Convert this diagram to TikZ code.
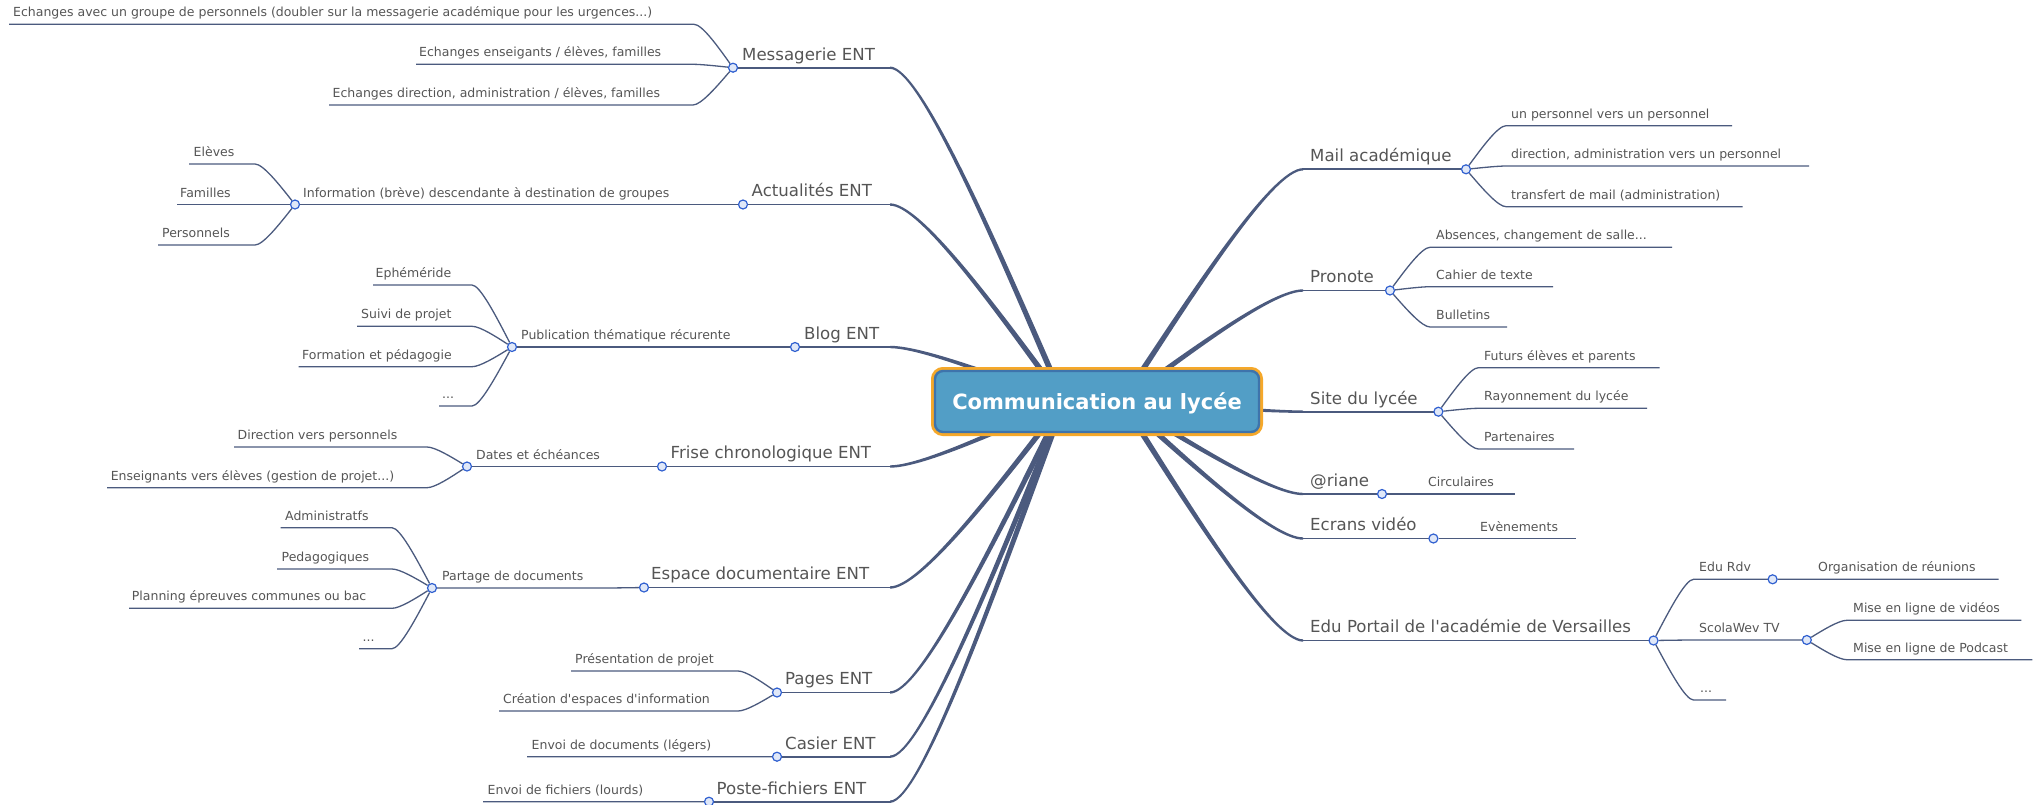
\documentclass[tikz,border=0pt]{standalone}
\usepackage{fontspec}
\setmainfont{DejaVu Sans}[Ligatures=TeXOff]
\usetikzlibrary{calc}
\definecolor{branchcol}{HTML}{4B5A7E}
\definecolor{txtcol}{HTML}{555555}
\definecolor{jointcol}{HTML}{3060D0}
\definecolor{jointfill}{HTML}{E0E8F8}
\definecolor{rootfill}{HTML}{529EC6}
\definecolor{rootline}{HTML}{3E74AC}
\definecolor{rootorange}{HTML}{F5A82A}
\pgfdeclarelayer{bg}
\pgfsetlayers{bg,main}
\tikzset{
 mainline/.style={draw=branchcol, line width=1.8pt},
 subline/.style={draw=branchcol, line width=1.3pt},
 joint/.style={circle, draw=jointcol, fill=jointfill, line width=1.2pt, minimum size=9pt, inner sep=0pt},
 maintxt/.style={anchor=base west, inner sep=0pt, text=txtcol, font=\fontsize{16.6}{20}\selectfont},
 subtxt/.style={anchor=base west, inner sep=0pt, text=txtcol, font=\fontsize{12.5}{15}\selectfont},
 rootbox/.style={draw=rootline, line width=2.4pt, fill=rootfill, rounded corners=8pt,
   minimum width=324pt, minimum height=61pt, text=white, text height=15.5pt, text depth=0pt,
   font=\bfseries\fontsize{21}{25}\selectfont, preaction={draw=rootorange, line width=8pt}},
}
% tapered main branch: start, end, dx
\newcommand\mbranch[3]{%
  \coordinate (#2-c) at ($(#2)+(#3,0)$);
  \coordinate (#2-m) at ($(#1)!0.5!(#2-c)$);
  \begin{pgfonlayer}{bg}
  \fill[branchcol] ($(#1)!3pt!90:(#2-c)$) .. controls ($(#2-m)!2.2pt!90:(#2-c)$) and ($(#2-c)!1.4pt!-90:(#1)$) .. ($(#2)!1.2pt!-90:(#2-c)$)
     -- ($(#2)!1.2pt!90:(#2-c)$) .. controls ($(#2-c)!1.4pt!90:(#1)$) and ($(#2-m)!2.2pt!-90:(#2-c)$) .. ($(#1)!3pt!-90:(#2-c)$) -- cycle;
  \end{pgfonlayer}
}
% sub connector: from node, to coord, dx, far coord
\newcommand\subconn[4]{%
  \coordinate (#2-c) at ($(#2)+(#3,0)$);
  \begin{pgfonlayer}{bg}
  \draw[subline] (#1) .. controls ($(#1)!0.5!(#2-c)$) and (#2-c) .. (#2) -- (#4);
  \end{pgfonlayer}
}
% 1 name, 2 root, 3 y, 4 circle x, 5 text x, 6 end x, 7 dx, 8 text
\newcommand\maintopic[8]{%
  \node[joint] (#1-j) at (#4,#3) {};
  \node[maintxt] (#1) at (#5,#3-7.7) {#8};
  \coordinate (#1-a) at (#6,#3);
  \mbranch{#2}{#1-a}{#7}
  \begin{pgfonlayer}{bg}\draw[mainline] (#1-a) -- (#1-j.center);\end{pgfonlayer}
}
% 1 name, 2 parent, 3 y, 4 near x, 5 circle x, 6 text x, 7 dx, 8 text
\newcommand\midtopic[8]{%
  \node[joint] (#1-j) at (#5,#3) {};
  \node[subtxt] (#1) at (#6,#3-7.5) {#8};
  \coordinate (#1-a) at (#4,#3);
  \subconn{#2}{#1-a}{#7}{#1-j.center}
}
% 1 name, 2 parent, 3 y, 4 near x, 5 far x, 6 text x, 7 dx, 8 text
\newcommand\leaf[8]{%
  \node[subtxt] (#1) at (#6,#3-7.5) {#8};
  \coordinate (#1-a) at (#4,#3);
  \coordinate (#1-b) at (#5,#3);
  \subconn{#2}{#1-a}{#7}{#1-b}
}
\begin{document}
\begin{tikzpicture}[x=1pt,y=-1pt]
\useasboundingbox (0,0) rectangle (2038,804);
\node[rootbox] (root) at (1097,401.5) {Communication au lycée};
\coordinate (rootL) at ($(root.center)+(-33,0)$);
\coordinate (rootR) at ($(root.center)+(25,0)$);

\maintopic{msg}{rootL}{67.7}{733}{742}{890}{30}{Messagerie ENT}
\maintopic{act}{rootL}{204.5}{743}{751.5}{890}{30}{Actualités ENT}
\maintopic{blog}{rootL}{347}{795}{804}{890}{30}{Blog ENT}
\maintopic{frise}{rootL}{466.5}{662}{670.5}{890}{30}{Frise chronologique ENT}
\maintopic{esp}{rootL}{587.5}{644}{651}{890}{30}{Espace documentaire ENT}
\maintopic{pages}{rootL}{692.5}{777}{785}{890}{30}{Pages ENT}
\maintopic{casier}{rootL}{756.7}{777}{785}{890}{30}{Casier ENT}
\maintopic{poste}{rootL}{801.7}{709}{716.5}{890}{30}{Poste-fichiers ENT}

\maintopic{mail}{rootR}{169.3}{1466}{1310}{1303}{-30}{Mail académique}
\maintopic{pronote}{rootR}{290.5}{1390}{1310}{1303}{-30}{Pronote}
\maintopic{site}{rootR}{411.7}{1438.4}{1310}{1303}{-30}{Site du lycée}
\maintopic{riane}{rootR}{494}{1382}{1310}{1303}{-30}{@riane}
\maintopic{ecrans}{rootR}{538.5}{1433.4}{1310}{1303}{-30}{Ecrans vidéo}
\maintopic{edu}{rootR}{640.5}{1653.5}{1310}{1303}{-30}{Edu Portail de l'académie de Versailles}

\midtopic{info}{act-j}{204.5}{703}{295}{303}{8}{Information (brève) descendante à destination de groupes}
\midtopic{pub}{blog-j}{347}{755}{512}{521}{8}{Publication thématique récurente}
\midtopic{dates}{frise-j}{466.5}{622}{467}{476}{8}{Dates et échéances}
\midtopic{partage}{esp-j}{588}{604}{432}{442}{8}{Partage de documents}
\midtopic{edurdv}{edu-j}{579.3}{1693.5}{1772.6}{1699}{-8}{Edu Rdv}
\midtopic{scola}{edu-j}{640}{1693.5}{1806.8}{1699}{-8}{ScolaWev TV}

\leaf{m1}{msg-j}{24.3}{694}{9}{13}{8}{Echanges avec un groupe de personnels (doubler sur la messagerie académique pour les urgences...)}
\leaf{m2}{msg-j}{64.3}{693}{416}{419}{8}{Echanges enseigants / élèves, familles}
\leaf{m3}{msg-j}{105}{693}{329}{332.5}{8}{Echanges direction, administration / élèves, familles}
\leaf{i1}{info-j}{164}{255}{189}{193.5}{8}{Elèves}
\leaf{i2}{info-j}{204.5}{255}{177}{180}{8}{Familles}
\leaf{i3}{info-j}{245}{255}{158}{162}{8}{Personnels}
\leaf{p1}{pub-j}{285}{472}{373}{375.5}{8}{Ephéméride}
\leaf{p2}{pub-j}{326.3}{472}{357}{361}{8}{Suivi de projet}
\leaf{p3}{pub-j}{366.7}{472}{298.5}{302}{8}{Formation et pédagogie}
\leaf{p4}{pub-j}{406}{472}{439}{442}{8}{...}
\leaf{d1}{dates-j}{447}{427}{234}{237.5}{8}{Direction vers personnels}
\leaf{d2}{dates-j}{487.7}{427}{107}{110.6}{8}{Enseignants vers élèves (gestion de projet...)}
\leaf{s1}{partage-j}{527.7}{392}{280.6}{285}{8}{Administratfs}
\leaf{s2}{partage-j}{569}{392}{277}{281.5}{8}{Pedagogiques}
\leaf{s3}{partage-j}{608.3}{392}{129}{131.7}{8}{Planning épreuves communes ou bac}
\leaf{s4}{partage-j}{648.7}{392}{359}{362.5}{8}{...}
\leaf{g1}{pages-j}{671}{738}{571}{575}{8}{Présentation de projet}
\leaf{g2}{pages-j}{711}{738}{499}{503}{8}{Création d'espaces d'information}
\leaf{c1}{casier-j}{756.7}{737}{527}{531.5}{8}{Envoi de documents (légers)}
\leaf{f1}{poste-j}{801.7}{669}{483}{487.5}{8}{Envoi de fichiers (lourds)}

\leaf{a1}{mail-j}{125.7}{1506}{1732}{1511}{-8}{un personnel vers un personnel}
\leaf{a2}{mail-j}{166}{1506}{1809}{1511}{-8}{direction, administration vers un personnel}
\leaf{a3}{mail-j}{206.7}{1506}{1742.5}{1511}{-8}{transfert de mail (administration)}
\leaf{n1}{pronote-j}{247.3}{1430}{1672}{1436}{-8}{Absences, changement de salle...}
\leaf{n2}{pronote-j}{286.7}{1430}{1553}{1436}{-8}{Cahier de texte}
\leaf{n3}{pronote-j}{327}{1430}{1507}{1436}{-8}{Bulletins}
\leaf{t1}{site-j}{367.7}{1478.4}{1659.6}{1484}{-8}{Futurs élèves et parents}
\leaf{t2}{site-j}{408.3}{1478.4}{1647}{1484}{-8}{Rayonnement du lycée}
\leaf{t3}{site-j}{449}{1478.4}{1574}{1484}{-8}{Partenaires}
\leaf{r1}{riane-j}{494}{1422}{1515}{1428}{-8}{Circulaires}
\leaf{e1}{ecrans-j}{538.5}{1473.4}{1575.6}{1480}{-8}{Evènements}
\leaf{u3}{edu-j}{700}{1693.5}{1726}{1700}{-8}{...}
\leaf{o1}{edurdv-j}{579.3}{1812.6}{1998.7}{1818}{-8}{Organisation de réunions}
\leaf{v1}{scola-j}{620.3}{1846.8}{2021.4}{1853}{-8}{Mise en ligne de vidéos}
\leaf{v2}{scola-j}{659.7}{1846.8}{2032.4}{1853}{-8}{Mise en ligne de Podcast}
\end{tikzpicture}
\end{document}
